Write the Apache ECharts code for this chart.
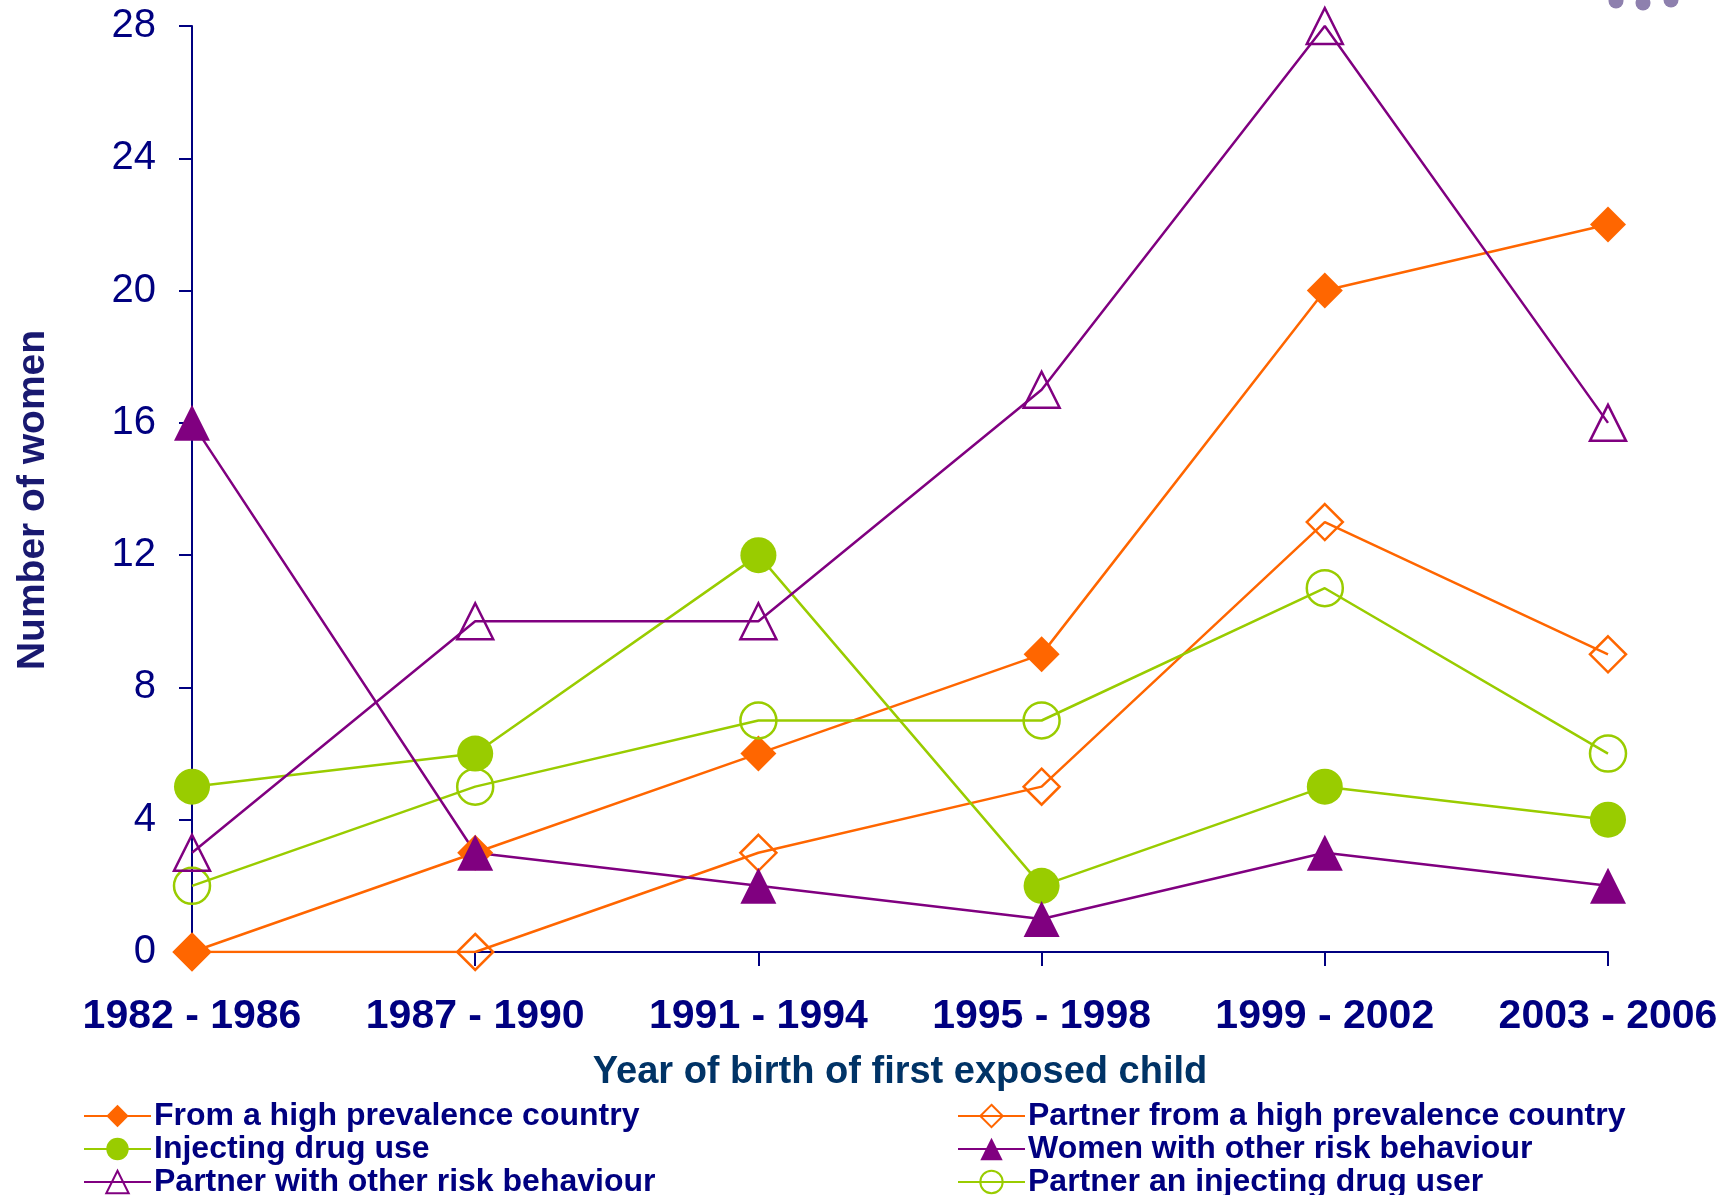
<!DOCTYPE html>
<html>
<head>
<meta charset="utf-8">
<script src="https://cdn.jsdelivr.net/npm/echarts@6/dist/echarts.min.js"></script>
<style>
  html, body { margin: 0; padding: 0; background: #fff; }
  #chart { width: 1735px; height: 1195px; }
</style>
</head>
<body>
<div id="chart"></div>
<script>
// 类目与数据
var periods = ['1982 - 1986', '1987 - 1990', '1991 - 1994', '1995 - 1998', '1999 - 2002', '2003 - 2006'];
var highPrevCountry = [0, 3, 6, 9, 20, 22];
var partnerHighPrev = [0, 0, 3, 5, 13, 9];
var injectingDrugUse = [5, 6, 12, 2, 5, 4];
var partnerIdu = [2, 5, 7, 7, 11, 6];
var partnerOtherRisk = [3, 10, 10, 17, 28, 16];
var womenOtherRisk = [16, 3, 2, 1, 3, 2];

var ORANGE = '#FF6600';
var GREEN = '#99CC00';
var PURPLE = '#800080';
var NAVY = '#000080';
var FONT = '"Liberation Sans", Arial, sans-serif';

function makeSeries (name, data, color, symbol, filled) {
  return {
    name: name,
    type: 'line',
    data: data,
    symbol: symbol,
    symbolSize: 36,
    lineStyle: { color: color, width: 2.5 },
    itemStyle: filled
      ? { color: color, borderColor: color, borderWidth: 0 }
      : { color: 'transparent', borderColor: color, borderWidth: 2.5 }
  }
}

// 图例样式（两列）
function makeLegend (left, names) {
  return {
    orient: 'vertical',
    left: left,
    top: 1095,
    height: 110,
    itemWidth: 67,
    itemHeight: 28,
    itemGap: 1,
    data: names,
    textStyle: { color: NAVY, fontSize: 32, lineHeight: 29, fontWeight: 'bold', fontFamily: FONT, padding: [0, 0, 0, -2] }
  }
}

var chart = echarts.init(document.getElementById('chart'))
var option = {
  animation: false,
  backgroundColor: '#fff',
  grid: { left: 192, right: 127, top: 26, bottom: 243 },
  graphic: [
    // 右上角的装饰圆点
    { type: 'circle', shape: { cx: 1616, cy: 1, r: 7.5 }, style: { fill: '#8E80AE' } },
    { type: 'circle', shape: { cx: 1643, cy: 3, r: 7.5 }, style: { fill: '#8E80AE' } },
    { type: 'circle', shape: { cx: 1671, cy: 0, r: 7.5 }, style: { fill: '#8E80AE' } },
    // y轴标题
    {
      type: 'text',
      x: 33,
      y: 500,
      rotation: Math.PI / 2,
      style: {
        text: 'Number of women',
        fill: '#191970',
        font: 'bold 39px "Liberation Sans", Arial, sans-serif',
        textAlign: 'center',
        textVerticalAlign: 'middle'
      }
    }
  ],
  xAxis: {
    type: 'category',
    data: periods,
    boundaryGap: false,
    name: 'Year of birth of first exposed child',
    nameLocation: 'middle',
    nameGap: 102,
    nameTextStyle: { color: '#003366', fontSize: 38, fontWeight: 'bold', fontFamily: FONT },
    axisLine: { lineStyle: { color: NAVY, width: 2 } },
    axisTick: { length: 14, lineStyle: { color: NAVY, width: 2 } },
    axisLabel: { color: NAVY, fontSize: 41, fontWeight: 'bold', fontFamily: FONT, margin: 44, interval: 0 },
    splitLine: { show: false }
  },
  yAxis: {
    type: 'value',
    min: 0,
    max: 28,
    interval: 4,
    axisLine: { show: true, lineStyle: { color: NAVY, width: 2 } },
    axisTick: { show: true, length: 13, lineStyle: { color: NAVY, width: 2 } },
    axisLabel: { color: NAVY, fontSize: 40, fontFamily: FONT, margin: 36 },
    splitLine: { show: false }
  },
  legend: [
    makeLegend(78, ['From a high prevalence country', 'Injecting drug use', 'Partner with other risk behaviour']),
    makeLegend(952, ['Partner from a high prevalence country', 'Women with other risk behaviour', 'Partner an injecting drug user'])
  ],
  series: [
    makeSeries('Partner from a high prevalence country', partnerHighPrev, ORANGE, 'diamond', false),
    makeSeries('From a high prevalence country', highPrevCountry, ORANGE, 'diamond', true),
    makeSeries('Partner an injecting drug user', partnerIdu, GREEN, 'circle', false),
    makeSeries('Injecting drug use', injectingDrugUse, GREEN, 'circle', true),
    makeSeries('Partner with other risk behaviour', partnerOtherRisk, PURPLE, 'triangle', false),
    makeSeries('Women with other risk behaviour', womenOtherRisk, PURPLE, 'triangle', true)
  ]
}
chart.setOption(option)
window.addEventListener('resize', () => {
  chart.resize()
})
</script>
</body>
</html>
